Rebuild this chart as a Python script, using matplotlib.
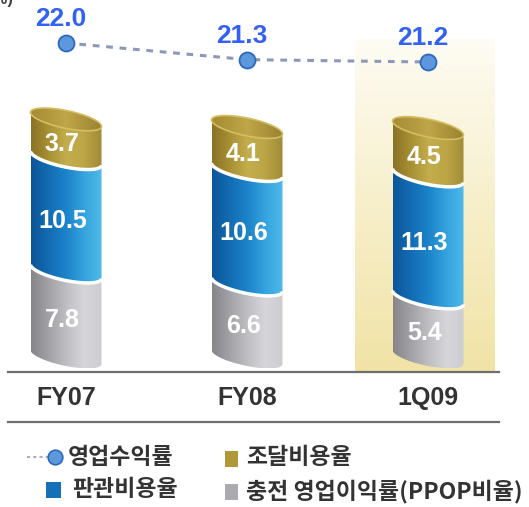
import numpy as np
import matplotlib
matplotlib.use("Agg")
import matplotlib.pyplot as plt
from matplotlib.patches import Polygon, Rectangle
from matplotlib.colors import LinearSegmentedColormap
from matplotlib.lines import Line2D

# ---- data ----
categories = ["FY07", "FY08", "1Q09"]
ppop = [7.8, 6.6, 5.4]          # 충전 영업이익률(PPOP비율)
sga = [10.5, 10.6, 11.3]        # 판관비용율
funding = [3.7, 4.1, 4.5]       # 조달비용율
op_rev = [22.0, 21.3, 21.2]     # 영업수익률

W, H = 529, 507
fig = plt.figure(figsize=(W / 100, H / 100), dpi=100)
fig.patch.set_facecolor("white")

def fx(px):
    return px / W

def fy(py):
    return 1 - py / H

NUM_FONT = "Liberation Sans"
KR_FONT = ["Noto Sans CJK KR", "DejaVu Sans"]

# axes: pixel x 8..499, pixel y 0..372
ax = fig.add_axes([fx(8), fy(372), (499 - 8) / W, 372 / H])
XPX = 181.0   # px per x unit
YPX = 10.8    # px per y unit
x_pos = np.arange(len(categories))
xlim = ((8 - 66) / XPX, (499 - 66) / XPX)
ylim = (-15 / YPX, 357 / YPX)
sx, sy = 1 / XPX, 1 / YPX

# highlight box behind 1Q09
hx0, hx1 = (355 - 66) / XPX, (495 - 66) / XPX
htop = (357 - 40) / YPX
hgrad = np.linspace(0, 1, 256).reshape(-1, 1)
hcmap = LinearSegmentedColormap.from_list("h", ["#f1e3a6", "#f7efca", "#fefcf4"])
ax.imshow(hgrad, extent=[hx0, hx1, ylim[0], htop], origin="lower", aspect="auto",
          cmap=hcmap, zorder=0)

a_px, b_px, k_px = 35.5, 9.0, 7.0

def front_arc(xc, y, reverse=False):
    t = np.linspace(np.pi, 0, 60)
    if reverse:
        t = t[::-1]
    xs = xc + a_px * np.cos(t) * sx
    ys = y - (b_px * np.sin(t) + k_px * np.cos(t)) * sy
    return np.column_stack([xs, ys])

def full_ellipse(xc, y):
    t = np.linspace(0, 2 * np.pi, 120)
    xs = xc + a_px * np.cos(t) * sx
    ys = y - (b_px * np.sin(t) + k_px * np.cos(t)) * sy
    return np.column_stack([xs, ys])

cm_gray = LinearSegmentedColormap.from_list("g", ["#85858a", "#a2a2a6", "#bfbfc3", "#d6d6da", "#cdcdd1"])
cm_blue = LinearSegmentedColormap.from_list("b", ["#0c5598", "#136cb4", "#1c84ca", "#35a3de", "#4fbbe9"])
cm_gold = LinearSegmentedColormap.from_list("o", ["#8a7226", "#a89034", "#c4ad4c", "#bca545", "#a08a36"])
cm_cap = LinearSegmentedColormap.from_list("c", ["#a58b34", "#bfa648", "#9a8233"])
xgrad = np.linspace(0, 1, 256).reshape(1, -1)

def grad_fill(verts, cmap, z):
    poly = Polygon(verts, closed=True, transform=ax.transData, facecolor="none", edgecolor="none")
    ax.add_patch(poly)
    x0, x1 = verts[:, 0].min(), verts[:, 0].max()
    y0, y1 = verts[:, 1].min(), verts[:, 1].max()
    im = ax.imshow(xgrad, extent=[x0, x1, y0, y1], aspect="auto", cmap=cmap, zorder=z)
    im.set_clip_path(poly)

for i, xc in enumerate(x_pos):
    bounds = [0, ppop[i], ppop[i] + sga[i], ppop[i] + sga[i] + funding[i]]
    cmaps = [cm_gray, cm_blue, cm_gold]
    vals = [ppop[i], sga[i], funding[i]]
    for j in range(3):
        y0, y1 = bounds[j], bounds[j + 1]
        verts = np.vstack([front_arc(xc, y0), front_arc(xc, y1, reverse=True)])
        grad_fill(verts, cmaps[j], 2 + j * 0.1)
        ymid = (y0 + y1) / 2 - 5 * sy
        ax.text(xc - 0.02, ymid, f"{vals[j]:.1f}", ha="center", va="center",
                color="white", fontsize=18, fontweight="bold", family=NUM_FONT, zorder=6)
    # separators
    for yb in bounds[1:3]:
        arc = front_arc(xc, yb)
        ax.plot(arc[:, 0], arc[:, 1] + 1.2 * sy, color="white", lw=2.5, zorder=5,
                solid_capstyle="butt")
    # top cap
    cap = full_ellipse(xc, bounds[3])
    grad_fill(cap, cm_cap, 4)
    ax.add_patch(Polygon(cap, closed=True, facecolor="none", edgecolor="#d4be62",
                         lw=1.2, zorder=4.5))

ax.set_xlim(*xlim)
ax.set_ylim(*ylim)
ax.set_xticks(x_pos)
ax.set_xticklabels(categories, fontsize=18, fontweight="bold", family=NUM_FONT, color="#333333")
ax.tick_params(axis="x", length=0, pad=10)
ax.set_yticks([])
for s in ["top", "left", "right"]:
    ax.spines[s].set_visible(False)
ax.spines["bottom"].set_color("#6e6e6e")
ax.spines["bottom"].set_linewidth(1.6)
ax.patch.set_alpha(0)

# line on secondary scale
ax2 = ax.twinx()
ax2.set_ylim(22.0 - 329 / 23.75, 22.0 + 43 / 23.75)
ax2.set_xlim(*xlim)
ax2.axis("off")
ax2.plot(x_pos, op_rev, linestyle=(0, (2.2, 2.2)), color="#8c98b8", lw=2.2,
         marker="o", markersize=11.5, markerfacecolor="#5e98dc", markeredgecolor="#2c68bc",
         markeredgewidth=1.3, zorder=5)
for xc, v in zip(x_pos, op_rev):
    ax2.annotate(f"{v:.1f}", (xc, v), xytext=(-4, 17), textcoords="offset points",
                 ha="center", va="center", fontsize=19, fontweight="bold",
                 family=NUM_FONT, color="#3362f2")

# second horizontal line below tick labels
fig.add_artist(Line2D([fx(8), fx(499)], [fy(422), fy(422)], color="#6e6e6e", lw=1.6))

# partial unit label at top-left
fig.text(fx(13), fy(4), "(%)", ha="right", va="baseline", fontsize=12, fontweight="bold",
         color="#444444", family=NUM_FONT)

# legend
fig.add_artist(Line2D([fx(27), fx(48)], [fy(457), fy(457)], color="#a8b0c8", lw=1.5,
                      linestyle=(0, (1.5, 1.5))))
fig.add_artist(Line2D([fx(55)], [fy(457)], marker="o", markersize=10.5, markerfacecolor="#5e98dc",
                      markeredgecolor="#2c68bc", markeredgewidth=1.2))
fig.patches.append(Rectangle((fx(46), fy(498)), 15 / W, 16 / H, transform=fig.transFigure,
                             facecolor="#1570b8", edgecolor="none", figure=fig))
fig.patches.append(Rectangle((fx(225), fy(467)), 13 / W, 16 / H, transform=fig.transFigure,
                             facecolor="#b09838", edgecolor="none", figure=fig))
fig.patches.append(Rectangle((fx(225), fy(500)), 13 / W, 16 / H, transform=fig.transFigure,
                             facecolor="#ababaf", edgecolor="none", figure=fig))
leg_kw = dict(fontsize=16.5, fontweight="bold", color="#333333", family=KR_FONT, va="center", ha="left")
fig.text(fx(68), fy(458), "영업수익률", **leg_kw)
fig.text(fx(72), fy(490), "판관비용율", **leg_kw)
fig.text(fx(246), fy(458), "조달비용율", **leg_kw)
fig.text(fx(246), fy(491), "충전 영업이익률(PPOP비율)", **leg_kw)

fig.savefig("out.png", dpi=100)
